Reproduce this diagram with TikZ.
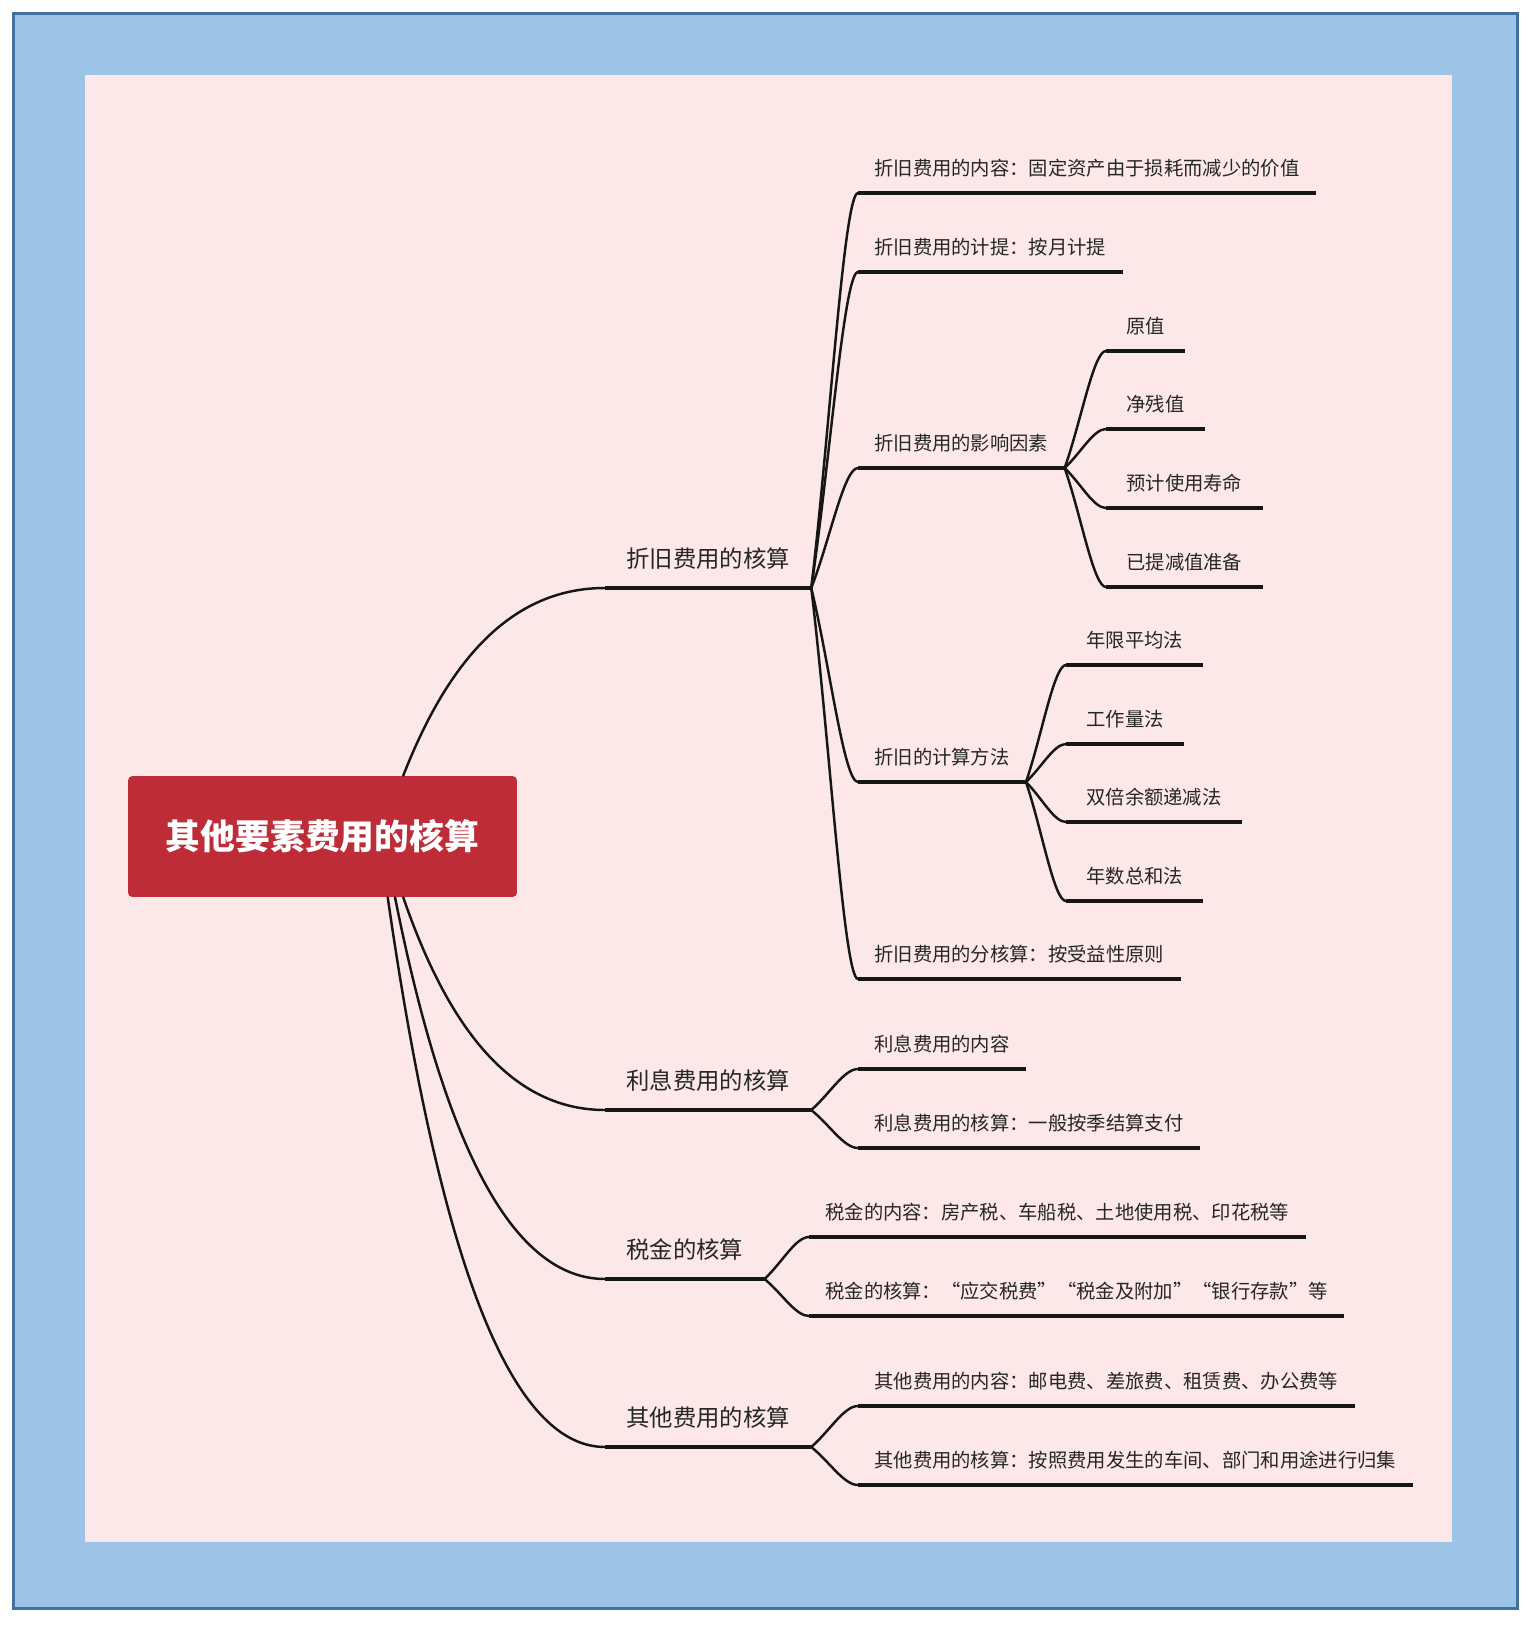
\documentclass[tikz,border=0pt]{standalone}
\usepackage{fontspec}
\setmainfont{Noto Sans CJK SC}
\usepackage{tikz}
\usetikzlibrary{calc}
\definecolor{skyx}{HTML}{9DC3E6}
\definecolor{framex}{HTML}{41719C}
\definecolor{pinkx}{HTML}{FCE8E8}
\definecolor{redx}{HTML}{BE2C38}
\definecolor{inkx}{HTML}{161616}
\definecolor{textx}{HTML}{262626}

\begin{document}
\begin{tikzpicture}[
      x=0.02cm, y=-0.02cm,
      topic/.style={anchor=south west, inner xsep=0.32cm, inner ysep=0.34cm,
                    text depth=0pt, text=textx, font=\fontsize{11pt}{13pt}\selectfont},
      leaf/.style={topic, inner xsep=0.4cm},
      major/.style={topic, inner xsep=0.42cm, inner ysep=0.4cm,
                    font=\fontsize{13.3pt}{16pt}\selectfont},
      rootbox/.style={rectangle, rounded corners=2.5pt, fill=redx, text=white,
                    minimum width=7.78cm, minimum height=2.42cm,
                    font=\fontsize{19.8pt}{24pt}\selectfont\bfseries},
      uline/.style={draw=inkx, line width=1.8pt},
      branch/.style={draw=inkx, line width=1.4pt, line cap=round,
                    to path={let \p1=(\tikztostart), \p2=(\tikztotarget) in
                      .. controls ({\x1+0.2*(\x2-\x1)},{\y1+0.55*(\y2-\y1)})
                      and ({\x2-0.5*(\x2-\x1)},\y2) .. (\tikztotarget)}},
      twig/.style={draw=inkx, line width=1.4pt, line cap=round,
                    to path={let \p1=(\tikztostart), \p2=(\tikztotarget) in
                      .. controls ({\x1+0.4*(\x2-\x1)},{\y1+0.4*(\y2-\y1)})
                      and ({\x2-0.3*(\x2-\x1)},\y2) .. (\tikztotarget)}}
    ]
    \useasboundingbox (0,0) rectangle (1533,1626);
    \fill[white] (0,0) rectangle (1533,1626);
    \draw[line width=1.7pt, draw=framex, fill=skyx] (13.5,13.5) rectangle (1517.5,1608.5);
    \fill[pinkx] (85,75) rectangle (1452,1542);

    \node[rootbox] (root) at (322.5,836.5) {其他要素费用的核算};

    % first level
    \node[major] (zj) at (605,588)  {折旧费用的核算};
    \node[major] (lx) at (605,1110) {利息费用的核算};
    \node[major] (sj) at (605,1279) {税金的核算};
    \node[major] (qt) at (605,1447) {其他费用的核算};

    % depreciation
    \node[topic] (zjnr) at (858,193) {折旧费用的内容：固定资产由于损耗而减少的价值};
    \node[topic] (zjjt) at (858,272) {折旧费用的计提：按月计提};
    \node[topic] (zjys) at (858,468) {折旧费用的影响因素};
    \node[topic] (zjff) at (858,782) {折旧的计算方法};
    \node[topic] (zjft) at (858,979) {折旧费用的分核算：按受益性原则};

    \node[leaf] (yz)  at (1106,351) {原值};
    \node[leaf] (jcz) at (1106,429) {净残值};
    \node[leaf] (sm)  at (1106,508) {预计使用寿命};
    \node[leaf] (jz)  at (1106,587) {已提减值准备};

    \node[leaf] (nx)  at (1066,665) {年限平均法};
    \node[leaf] (gzl) at (1066,744) {工作量法};
    \node[leaf] (sb)  at (1066,822) {双倍余额递减法};
    \node[leaf] (ns)  at (1066,901) {年数总和法};

    % interest, tax, others
    \node[topic] (lxnr) at (858,1069) {利息费用的内容};
    \node[topic] (lxhs) at (858,1148) {利息费用的核算：一般按季结算支付};
    \node[topic] (sjnr) at (809,1237) {税金的内容：房产税、车船税、土地使用税、印花税等};
    \node[topic] (sjhs) at (809,1316) {税金的核算：“应交税费”“税金及附加”“银行存款”等};
    \node[topic] (qtnr) at (858,1406) {其他费用的内容：邮电费、差旅费、租赁费、办公费等};
    \node[topic] (qths) at (858,1485) {其他费用的核算：按照费用发生的车间、部门和用途进行归集};

    \foreach \n in {zj,lx,sj,qt,zjnr,zjjt,zjys,zjff,zjft,yz,jcz,sm,jz,nx,gzl,sb,ns,lxnr,lxhs,sjnr,sjhs,qtnr,qths}
      \draw[uline] (\n.south west) -- (\n.south east);

    \draw[branch] (root.37)  to (zj.south west);
    \draw[branch] (root.-37) to (lx.south west);
    \draw[branch] (root.-40) to (sj.south west);
    \draw[branch] (root.-43) to (qt.south west);

    \draw[twig] (zj.south east) to (zjnr.south west);
    \draw[twig] (zj.south east) to (zjjt.south west);
    \draw[twig] (zj.south east) to (zjys.south west);
    \draw[twig] (zj.south east) to (zjff.south west);
    \draw[twig] (zj.south east) to (zjft.south west);
    \draw[twig] (zjys.south east) to (yz.south west);
    \draw[twig] (zjys.south east) to (jcz.south west);
    \draw[twig] (zjys.south east) to (sm.south west);
    \draw[twig] (zjys.south east) to (jz.south west);
    \draw[twig] (zjff.south east) to (nx.south west);
    \draw[twig] (zjff.south east) to (gzl.south west);
    \draw[twig] (zjff.south east) to (sb.south west);
    \draw[twig] (zjff.south east) to (ns.south west);
    \draw[twig] (lx.south east) to (lxnr.south west);
    \draw[twig] (lx.south east) to (lxhs.south west);
    \draw[twig] (sj.south east) to (sjnr.south west);
    \draw[twig] (sj.south east) to (sjhs.south west);
    \draw[twig] (qt.south east) to (qtnr.south west);
    \draw[twig] (qt.south east) to (qths.south west);
  \end{tikzpicture}
\end{document}
